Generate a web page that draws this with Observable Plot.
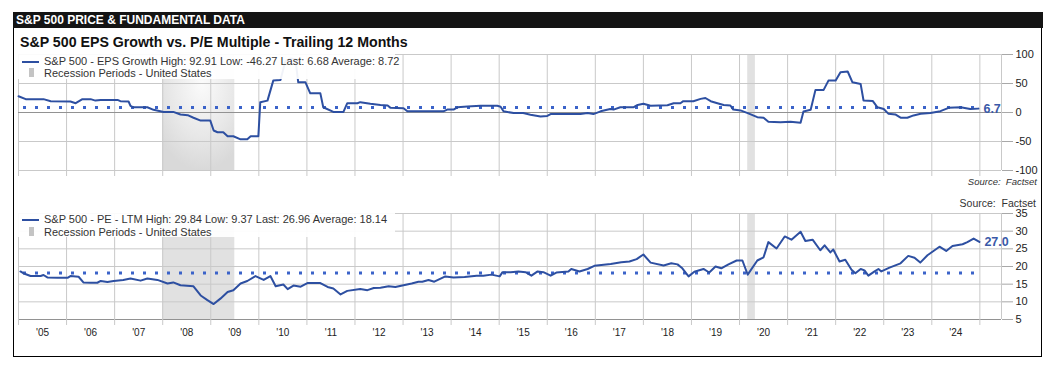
<!DOCTYPE html>
<html><head><meta charset="utf-8">
<script src="https://cdn.jsdelivr.net/npm/d3@7"></script>
<script src="https://cdn.jsdelivr.net/npm/@observablehq/plot@0.6"></script>
<style>
body{margin:0;background:#fff;font-family:"Liberation Sans",Arial,sans-serif;}
#page{position:relative;width:1062px;height:368px;overflow:hidden;background:#fff;}
.abs{position:absolute;}
#header{left:13px;top:12px;width:1027px;height:16px;background:#141414;color:#fff;font-weight:bold;font-size:12px;line-height:17px;padding-left:3px;white-space:nowrap;}
#frame{left:13px;top:28px;width:1027px;height:328px;border:1.5px solid #000;border-top:none;}
#title{left:20px;top:34px;font-size:14.2px;font-weight:bold;color:#111;white-space:nowrap;}
.legend{background:rgba(255,255,255,0.93);z-index:5;}
.legend .t{position:absolute;left:26px;font-size:11px;color:#333;white-space:nowrap;line-height:12px;}
.legend .sw{position:absolute;left:4px;width:17px;height:2px;background:#2d4fa1;}
.legend .sq{position:absolute;left:11px;width:5px;height:9px;background:#c4c4c4;}
.src{font-size:10px;color:#333;white-space:nowrap;text-align:right;z-index:6;}
svg{position:absolute;left:0;}
</style></head>
<body><div id="page">
<div id="frame" class="abs"></div>
<div id="header" class="abs">S&amp;P 500 PRICE &amp; FUNDAMENTAL DATA</div>
<div id="title" class="abs">S&amp;P 500 EPS Growth vs. P/E Multiple - Trailing 12 Months</div>
<div id="topWrap" class="abs" style="left:0;top:40px;width:1062px;height:150px;"></div>
<div id="botWrap" class="abs" style="left:0;top:196px;width:1062px;height:150px;"></div>
<div class="abs legend" style="left:18px;top:54px;width:377px;height:25px;">
  <div class="sw" style="top:7px;"></div><div class="t" style="top:1px;" id="leg1"></div>
  <div class="sq" style="top:14px;"></div><div class="t" style="top:13px;">Recession Periods - United States</div>
</div>
<div class="abs legend" style="left:18px;top:213px;width:377px;height:24px;">
  <div class="sw" style="top:6px;"></div><div class="t" style="top:0px;" id="leg2"></div>
  <div class="sq" style="top:14px;"></div><div class="t" style="top:13px;">Recession Periods - United States</div>
</div>
<div class="abs src" style="right:25px;top:176px;font-style:italic;font-size:9.5px;">Source:&nbsp; Factset</div>
<div class="abs src" style="right:26px;top:197px;font-size:10.5px;">Source:&nbsp; Factset</div>
</div>
<script>
// ---- data ----
const yearLabels = ["'05","'06","'07","'08","'09","'10","'11","'12","'13","'14","'15","'16","'17","'18","'19","'20","'21","'22","'23","'24"];
const epsTicks = [-100, -50, 0, 50, 100];
const peTicks = [5, 10, 15, 20, 25, 30, 35];
const recessionStarts = [2008.0, 2020.17];
const recessionEnds = [2009.5, 2020.33];

const epsYears = [2005.00,2005.15,2005.52,2005.67,2006.08,2006.19,2006.33,2006.50,2006.60,2006.71,
2007.06,2007.12,2007.29,2007.33,2007.39,2007.68,2007.81,2008.02,2008.22,2008.37,
2008.52,2008.64,2008.79,2008.99,2009.06,2009.14,2009.26,2009.35,2009.47,2009.62,
2009.76,2009.83,2009.99,2010.03,2010.18,2010.30,2010.45,2010.55,2010.66,2010.76,
2010.82,2010.97,2011.07,2011.28,2011.34,2011.55,2011.76,2011.84,2012.05,2012.11,
2012.32,2012.53,2012.68,2012.74,2013.01,2013.09,2013.84,2013.92,2014.05,2014.13,
2014.34,2014.61,2014.96,2015.03,2015.09,2015.30,2015.50,2015.65,2015.86,2016.00,
2016.07,2016.69,2016.84,2016.96,2017.11,2017.31,2017.38,2017.52,2017.79,2017.88,
2018.00,2018.15,2018.50,2018.63,2018.77,2018.83,2019.04,2019.19,2019.29,2019.40,
2019.54,2019.67,2019.81,2019.87,2020.02,2020.17,2020.37,2020.50,2020.60,2020.85,
2021.06,2021.27,2021.33,2021.48,2021.58,2021.75,2021.85,2022.00,2022.10,2022.25,
2022.35,2022.52,2022.58,2022.77,2022.87,2023.00,2023.10,2023.24,2023.35,2023.49,
2023.62,2023.77,2023.97,2024.18,2024.35,2024.60,2024.80,2024.97];
const epsValues = [28,23,23,19.5,19,16,23,23,20.5,21.7,
21.7,19.5,19,11.5,9,9,4.6,1,1,-3.4,
-4.6,-9,-14,-14,-31,-34,-34,-41,-41,-46.27,
-46,-41,-41,17.8,20.5,55,56,88,92.91,92,
52,52,33,33,9,1,1,16,16,17.8,
15,13,12,8,7.5,2,2,5,5,9,
10.5,11.5,11.5,10,2,-1,-1,-4,-7,-6,
-2.7,-2.7,-1,-2.7,2,6,5,9,9,13,
15,11.5,12.6,16,16,19.5,19.5,23.5,25,19.5,
16,13,12,5,3.6,-1,-8,-9,-16,-16.7,
-16,-17.8,1.7,4.6,39,39,55,55,69.5,70.7,
52,49,20.7,20,9,6,-2.3,-3.4,-9,-9,
-5,-2.3,-1,2.3,8,9,6,6.68];

const peYears = [2005.04,2005.10,2005.25,2005.46,2005.52,2005.60,2005.81,2006.02,2006.08,2006.25,
2006.35,2006.50,2006.64,2006.71,2006.85,2006.98,2007.18,2007.33,2007.54,2007.68,
2007.89,2008.10,2008.22,2008.37,2008.64,2008.79,2008.93,2009.06,2009.20,2009.35,
2009.47,2009.62,2009.76,2009.93,2010.10,2010.24,2010.35,2010.51,2010.60,2010.72,
2010.87,2011.01,2011.28,2011.43,2011.55,2011.70,2011.84,2012.11,2012.26,2012.39,
2012.53,2012.70,2012.84,2013.01,2013.18,2013.32,2013.40,2013.53,2013.65,2013.88,
2014.05,2014.28,2014.53,2014.67,2014.84,2015.01,2015.07,2015.24,2015.40,2015.55,
2015.67,2015.80,2015.92,2016.07,2016.19,2016.44,2016.50,2016.67,2016.84,2016.98,
2017.32,2017.54,2017.71,2017.86,2018.00,2018.15,2018.42,2018.58,2018.71,2018.81,
2018.94,2019.06,2019.25,2019.37,2019.50,2019.62,2019.77,2019.94,2020.06,2020.17,
2020.37,2020.50,2020.60,2020.77,2020.94,2021.08,2021.27,2021.37,2021.52,2021.68,
2021.77,2021.89,2021.95,2022.08,2022.20,2022.33,2022.41,2022.52,2022.60,2022.68,
2022.81,2022.89,2022.95,2023.12,2023.35,2023.51,2023.64,2023.76,2023.91,2024.16,
2024.30,2024.43,2024.64,2024.74,2024.87,2024.99];
const peValues = [18.6,18.1,17.3,17.3,17.6,16.9,16.8,16.8,17.3,17.1,
15.5,15.4,15.4,15.9,15.6,15.9,16.2,16.6,16.0,16.6,
16.2,15.2,15.5,14.7,14.4,11.8,10.5,9.37,10.9,12.8,
13.3,15.2,15.9,17.3,16.2,17.3,14.4,14.9,13.6,14.6,
14.3,15.3,15.3,14.2,13.75,12.1,13.1,13.65,13.3,13.9,
14.0,14.4,14.2,14.7,15.2,15.7,15.7,16.2,15.7,17.2,
16.9,17.0,17.4,17.4,17.7,17.2,18.4,18.4,18.6,18.4,
17.4,18.6,18.4,17.4,18.3,18.6,19.3,18.6,19.3,20.2,
20.7,21.2,21.4,22.1,23.4,21.1,20.3,20.9,20.6,19.5,
17.2,18.5,19.3,18.3,20.0,19.5,20.6,21.7,21.7,17.7,
21.7,22.6,26.9,25.1,28.5,27.6,29.84,27.2,27.6,24.6,
26.0,24.0,24.8,21.4,21.9,19.1,18.1,19.3,18.9,17.4,
18.6,19.3,18.6,19.7,20.9,23.0,22.5,21.1,23.2,25.6,
24.4,25.8,26.3,26.9,27.9,26.96];

const epsStats = {high: 92.91, low: -46.27, last: 6.68, avg: 8.72};
const peStats = {high: 29.84, low: 9.37, last: 26.96, avg: 18.14};
const xDomain = [2005, 2025.45];

(function () {
// ---- derived tables ----
const eps = epsYears.map((y, i) => ({year: y, value: epsValues[i]}));
const pe = peYears.map((y, i) => ({year: y, value: peValues[i]}));
const recessions = recessionStarts.map((s, i) => ({start: s, end: recessionEnds[i]}));
const yearBounds = d3.range(2005, 2026);
const yearMids = yearLabels.map((_, i) => 2005 + i + 0.5);
const gridXTicks = [...yearBounds, xDomain[1]];

document.getElementById("leg1").textContent =
  `S&P 500 - EPS Growth High: ${epsStats.high} Low: ${epsStats.low} Last: ${epsStats.last} Average: ${epsStats.avg}`;
document.getElementById("leg2").textContent =
  `S&P 500 - PE - LTM High: ${peStats.high} Low: ${peStats.low} Last: ${peStats.last} Average: ${peStats.avg}`;

const BLUE = "#2d4fa1", DOT = "#3b63c9", GRID = "#c9c9c9";
const font = {fontFamily: "Liberation Sans, Arial, sans-serif", fontSize: "11px", color: "#222", background: "transparent", overflow: "visible"};

function panel(data, ticks, yDom, stats, labelText, dims, showXLabels, gradient) {
  const last = data[data.length - 1];
  const marks = [
    Plot.rect(recessions, {x1: "start", x2: "end", fill: d => (gradient && d.end - d.start > 0.5) ? "url(#recGrad)" : "#e1e1e1"}),
    Plot.gridY({ticks, stroke: GRID, strokeOpacity: 1}),
    Plot.gridX({ticks: gridXTicks, stroke: GRID, strokeOpacity: 1}),
    Plot.ruleY([yDom[0] < 0 ? 0 : yDom[0]], {stroke: "#929292"}),
    Plot.axisX({ticks: yearBounds, tickSize: 6, tickFormat: () => "", stroke: GRID, strokeOpacity: 1, label: null}),
    Plot.axisY({anchor: "right", ticks, tickSize: 11, tickPadding: 3, textAnchor: "start", tickFormat: d => String(d), stroke: "#a8a8a8", strokeOpacity: 1, fill: "#222", fontSize: 11, label: null}),
    Plot.ruleY([stats.avg], {x1: xDomain[0], x2: last.year, stroke: DOT, strokeWidth: 3, strokeDasharray: "3,9", strokeDashoffset: -5}),
    Plot.line(data, {x: "year", y: "value", stroke: BLUE, strokeWidth: 2}),
    Plot.text([last], {x: "year", y: "value", text: () => labelText, dx: 5, textAnchor: "start", fill: "#3a59a8", fontSize: 12.5, fontWeight: "bold"})
  ];
  if (showXLabels) {
    marks.push(Plot.axisX({ticks: yearMids, tickSize: 0, tickPadding: 9, tickFormat: d => yearLabels[Math.floor(d) - 2005], fill: "#222", fontSize: 10, label: null}));
  }
  return Plot.plot({
    width: 1062, height: 150,
    marginLeft: 18, marginRight: 61, marginTop: dims.top, marginBottom: dims.bottom,
    x: {type: "linear", domain: xDomain},
    y: {domain: yDom},
    style: font,
    marks
  });
}

const topChart = panel(eps, epsTicks, [-100, 100], epsStats, d3.format(".1f")(epsStats.last), {top: 14, bottom: 20}, false, true);
topChart.insertAdjacentHTML("afterbegin",
  `<defs><radialGradient id="recGrad" cx="0.55" cy="0.25" r="0.75"><stop offset="0" stop-color="#fbfbfb"/><stop offset="0.6" stop-color="#e8e8e8"/><stop offset="1" stop-color="#d9d9d9"/></radialGradient></defs>`);
document.getElementById("topWrap").appendChild(topChart);

const botChart = panel(pe, peTicks, [5, 35], peStats, d3.format(".1f")(peStats.last), {top: 17, bottom: 27}, true, false);
document.getElementById("botWrap").appendChild(botChart);
})();
</script>
</body></html>
